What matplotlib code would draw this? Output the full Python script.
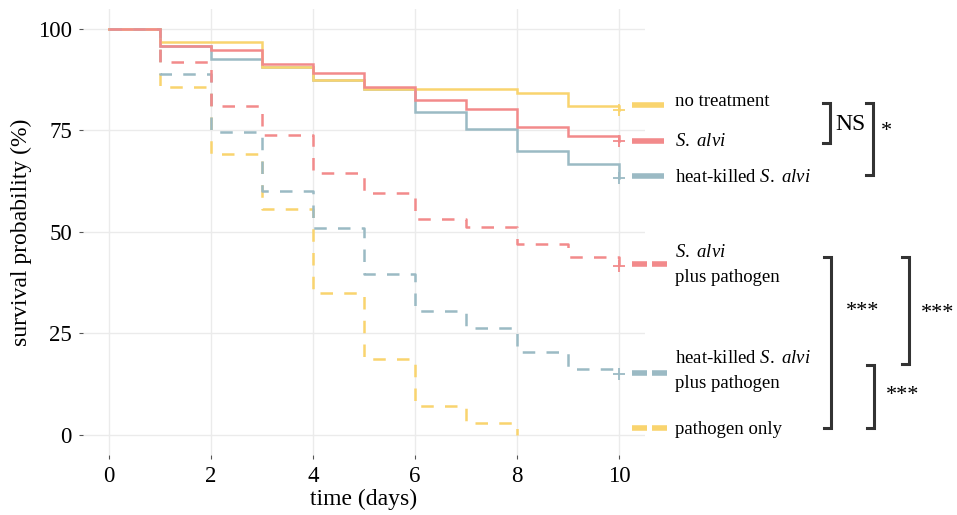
import matplotlib
matplotlib.use("Agg")
import matplotlib.pyplot as plt
from matplotlib.lines import Line2D

plt.rcParams["font.family"] = ["Liberation Serif", "DejaVu Serif"]
plt.rcParams["mathtext.fontset"] = "custom"
plt.rcParams["mathtext.rm"] = "Liberation Serif"
plt.rcParams["mathtext.it"] = "Liberation Serif:italic"

# survival (%) at the start of each day interval
days = [0, 1, 2, 3, 4, 5, 6, 7, 8, 9, 10]
no_treatment = [100, 96.8, 96.8, 90.7, 87.4, 85.1, 85.1, 85.1, 84.1, 81.1, 80.0]
s_alvi = [100, 95.8, 94.7, 91.4, 89.2, 85.8, 82.5, 80.2, 75.8, 73.6, 72.5]
heat_killed = [100, 95.8, 92.5, 90.7, 87.4, 85.1, 79.6, 75.3, 70.0, 66.7, 63.2]
s_alvi_path = [100, 91.8, 81.0, 73.9, 64.6, 59.5, 53.1, 51.3, 47.0, 43.7, 41.5]
hk_path = [100, 88.9, 74.6, 60.0, 51.0, 39.7, 30.5, 26.4, 20.3, 16.3, 15.0]
days_path_only = [0, 1, 2, 3, 4, 5, 6, 7, 8]
path_only = [100, 85.7, 69.1, 55.7, 35.0, 18.6, 7.2, 2.9, 0]

labels = [
    "no treatment",
    "$\\mathit{S.}$ $\\mathit{alvi}$",
    "heat-killed $\\mathit{S.}$ $\\mathit{alvi}$",
    "$\\mathit{S.}$ $\\mathit{alvi}$\nplus pathogen",
    "heat-killed $\\mathit{S.}$ $\\mathit{alvi}$\nplus pathogen",
    "pathogen only",
]
sig_labels = ["NS", "*", "***", "***", "***"]

YELLOW = "#F9D46E"
RED = "#F28A8B"
BLUE = "#9BBAC4"

W, H = 957, 515
fig = plt.figure(figsize=(W / 100, H / 100), dpi=100)
ax = fig.add_axes([83 / W, 1 - 455 / H, (645 - 83) / W, (455 - 8.7) / H])


def px(x, y):
    return x / W, 1 - y / H


DASH = (5, 4.5)
LW = 1.8
curves = [
    (days, heat_killed, BLUE, "-"),
    (days, no_treatment, YELLOW, "-"),
    (days, s_alvi, RED, "-"),
    (days_path_only, path_only, YELLOW, "--"),
    (days, hk_path, BLUE, "--"),
    (days, s_alvi_path, RED, "--"),
]
for t, s, c, ls in curves:
    line, = ax.step(t, s, where="post", color=c, lw=LW, solid_joinstyle="miter")
    if ls == "--":
        line.set_dashes(DASH)
    if t[-1] == 10:
        ax.plot([t[-1]], [s[-1]], marker="+", ms=8.5, mew=1.3, color=c, ls="none")

ax.set_xlim(-0.5, 10.5)
ax.set_ylim(-5, 105)
ax.set_xticks([0, 2, 4, 6, 8, 10])
ax.set_yticks([0, 25, 50, 75, 100])
ax.grid(True, color="#EBEBEB", lw=1.0)
ax.set_axisbelow(True)
for sp in ax.spines.values():
    sp.set_visible(False)
ax.tick_params(length=3, width=0.8, color="#555555", labelsize=16.5, pad=5)
ax.set_xlabel("time (days)", fontsize=17, labelpad=1)
ax.set_ylabel("survival probability (%)", fontsize=17, labelpad=4)

# legend drawn by hand on the right of the panel
keys = [
    (105, 102, YELLOW, "-"),
    (141, 141, RED, "-"),
    (176, 177, BLUE, "-"),
    (264, 265, RED, "--"),
    (373, 371, BLUE, "--"),
    (428, 429, YELLOW, "--"),
]
for (ky, ty, c, ls), lab in zip(keys, labels):
    x0, y0 = px(632, ky)
    x1, _ = px(664 if ls == "-" else 667, ky)
    key = Line2D([x0, x1], [y0, y0], color=c, lw=4, transform=fig.transFigure,
                 solid_capstyle="butt", dash_capstyle="butt")
    if ls == "--":
        key.set_dashes((2.7, 0.9))
    fig.add_artist(key)
    tx, tyf = px(675, ty)
    fig.text(tx, tyf, lab, fontsize=13.5, va="center", ha="left", linespacing=1.6)


def bracket(x, y0, y1, arm=7):
    xs = [x - arm, x, x, x - arm]
    ys = [y0, y0, y1, y1]
    pts = [px(a, b) for a, b in zip(xs, ys)]
    fig.add_artist(Line2D([p[0] for p in pts], [p[1] for p in pts],
                          color="#333333", lw=2.2, transform=fig.transFigure,
                          solid_joinstyle="miter"))


bracket(830, 103, 143)
bracket(873, 103, 175)
bracket(831, 257, 428)
bracket(909, 257, 364)
bracket(874, 365, 428)

sig_pos = [(850, 125, 17), (886, 131, 16), (863, 311, 16), (938, 313, 16), (903, 396, 16)]
for (x, y, fs), s in zip(sig_pos, sig_labels):
    fx, fy = px(x, y)
    fig.text(fx, fy, s, fontsize=fs, ha="center", va="center")

fig.savefig("out.png", dpi=100)
